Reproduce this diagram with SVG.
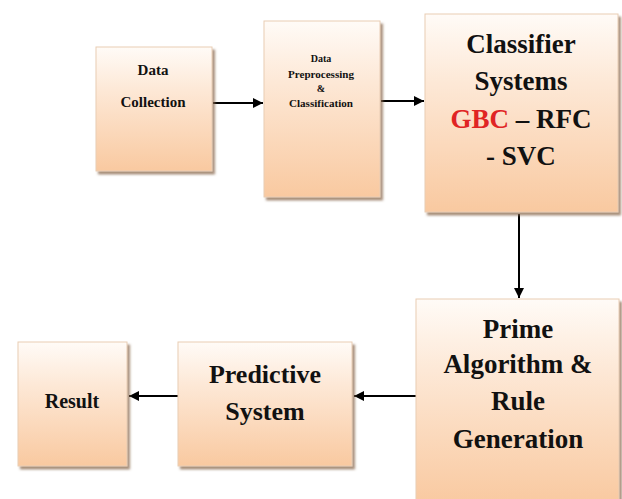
<svg xmlns="http://www.w3.org/2000/svg" width="622" height="499" viewBox="0 0 622 499">
<defs>
<linearGradient id="peach" x1="0" y1="0" x2="0" y2="1">
<stop offset="0" stop-color="#fffbf7"/>
<stop offset="0.35" stop-color="#fde8d6"/>
<stop offset="1" stop-color="#f9c9a0"/>
</linearGradient>
<filter id="sh" x="-10%" y="-10%" width="125%" height="125%">
<feDropShadow dx="2.5" dy="3" stdDeviation="1.2" flood-color="#8a6a50" flood-opacity="0.75"/>
</filter>
<marker id="ah" viewBox="0 0 10 10" refX="10" refY="5" markerWidth="10" markerHeight="10" markerUnits="userSpaceOnUse" orient="auto">
<path d="M0,0 L10,5 L0,10 Z" fill="#000"/>
</marker>
</defs>
<style>
.box{fill:url(#peach);stroke:#e9cdb4;stroke-width:1;filter:url(#sh)}
text{font-family:"Liberation Serif",serif;font-weight:bold;fill:#111;text-anchor:middle}
.c{stroke:#000;stroke-width:2;fill:none;marker-end:url(#ah)}
</style>
<rect width="622" height="499" fill="#fff"/>
<g id="connectors">
<line class="c" x1="213" y1="103" x2="263" y2="103"/>
<line class="c" x1="381" y1="101" x2="424" y2="101"/>
<line class="c" x1="519" y1="214" x2="519" y2="298"/>
<line class="c" x1="416" y1="396" x2="354" y2="396"/>
<line class="c" x1="178" y1="396" x2="129" y2="396"/>
</g>
<g id="data-collection">
<rect class="box" x="96" y="47" width="116" height="124"/>
<text x="153" y="75" font-size="15" font-family="Liberation Serif">Data</text>
<text x="153" y="107" font-size="15" font-family="Liberation Serif">Collection</text>
</g>
<g id="preprocessing">
<rect class="box" x="264" y="21" width="116" height="176"/>
<text x="321" y="62" font-size="10" font-family="Liberation Serif">Data</text>
<text x="321" y="78" font-size="10" font-family="Liberation Serif" textLength="66" lengthAdjust="spacingAndGlyphs">Preprocessing</text>
<text x="321" y="92" font-size="10" font-family="Liberation Serif">&amp;</text>
<text x="321" y="107" font-size="10" font-family="Liberation Serif" textLength="64" lengthAdjust="spacingAndGlyphs">Classification</text>
</g>
<g id="classifier">
<rect class="box" x="425" y="14" width="193" height="198"/>
<text x="521" y="53" font-size="27" font-family="Liberation Serif">Classifier</text>
<text x="521" y="90" font-size="27" font-family="Liberation Serif">Systems</text>
<text x="521" y="128" font-size="27" font-family="Liberation Serif"><tspan fill="#e02424">GBC</tspan> – RFC</text>
<text x="521" y="165" font-size="27" font-family="Liberation Serif">- SVC</text>
</g>
<g id="prime">
<rect class="box" x="416" y="299" width="203" height="205"/>
<text x="518" y="338" font-size="27" font-family="Liberation Serif">Prime</text>
<text x="518" y="373" font-size="27" font-family="Liberation Serif">Algorithm &amp;</text>
<text x="518" y="410" font-size="27" font-family="Liberation Serif">Rule</text>
<text x="518" y="448" font-size="27" font-family="Liberation Serif">Generation</text>
</g>
<g id="predictive">
<rect class="box" x="178" y="342" width="174" height="124"/>
<text x="265" y="383" font-size="26" font-family="Liberation Serif">Predictive</text>
<text x="265" y="420" font-size="26" font-family="Liberation Serif">System</text>
</g>
<g id="result">
<rect class="box" x="18" y="342" width="109" height="124"/>
<text x="72" y="408" font-size="20" font-family="Liberation Serif">Result</text>
</g>
</svg>
